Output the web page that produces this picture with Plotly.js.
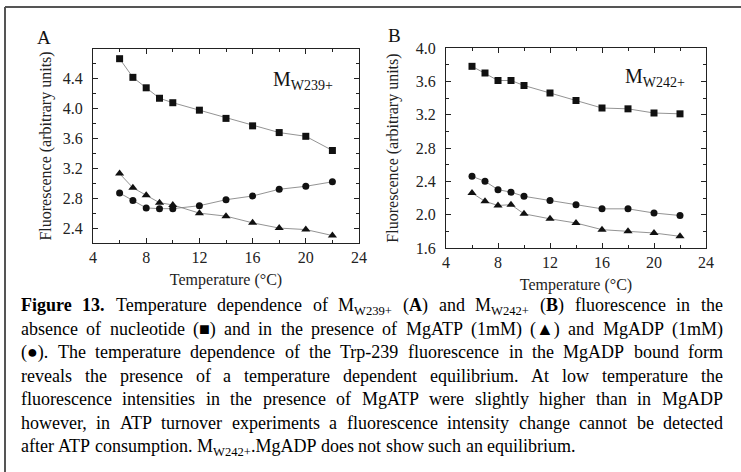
<!DOCTYPE html>
<html><head><meta charset="utf-8">
<script src="https://cdn.plot.ly/plotly-3.0.1.min.js"></script>
<style>html,body{margin:0;padding:0;background:#fff}#c{width:741px;height:472px}</style>
</head><body><div id="c"></div>
<script>
// ---- data ----
const temperature = [6,7,8,9,10,12,14,16,18,20,22];
const A_none = [4.67,4.42,4.28,4.14,4.08,3.98,3.87,3.77,3.68,3.63,3.44];
const A_ATP  = [3.13,2.94,2.84,2.74,2.71,2.60,2.56,2.47,2.40,2.38,2.30];
const A_ADP  = [2.87,2.77,2.67,2.66,2.66,2.70,2.78,2.83,2.92,2.96,3.02];
const B_none = [3.78,3.70,3.61,3.61,3.55,3.46,3.37,3.28,3.27,3.22,3.21];
const B_ADP  = [2.46,2.40,2.30,2.27,2.22,2.17,2.12,2.07,2.07,2.02,1.99];
const B_ATP  = [2.26,2.16,2.11,2.12,2.01,1.95,1.90,1.82,1.80,1.78,1.74];
const xTicks = [4,8,12,16,20,24];
const yTicksA = [2.4,2.8,3.2,3.6,4.0,4.4];
const yTicksB = [1.6,2.0,2.4,2.8,3.2,3.6,4.0];
const captionLines = [
  "<b>Figure</b> <b>13.</b> Temperature dependence of M<sub>W239+</sub> (<b>A</b>) and M<sub>W242+</sub> (<b>B</b>) fluorescence in the",
  "absence of nucleotide (\u25A0) and in the presence of MgATP (1mM) (\u25B2) and MgADP (1mM)",
  "(\u25CF). The temperature dependence of the Trp-239 fluorescence in the MgADP bound form",
  "reveals the presence of a temperature dependent equilibrium. At low temperature the",
  "fluorescence intensities in the presence of MgATP were slightly higher than in MgADP",
  "however, in ATP turnover experiments a fluorescence intensity change cannot be detected",
  "after ATP consumption. M<sub>W242+</sub>.MgADP does not show such an equilibrium."
];

const W = 741, H = 472;
const SERIF = 'Liberation Serif, Times New Roman, serif';
const px = v => v / W, py = v => 1 - v / H;

function series(x, y, xa, ya, sym, sz) {
  return {x, y, xaxis: xa, yaxis: ya, type: 'scatter', mode: 'lines+markers',
    line: {color: '#777', width: 0.8},
    marker: {symbol: sym, size: sz, color: '#111'}, showlegend: false, cliponaxis: false};
}
const traces = [
  series(temperature, A_none, 'x', 'y', 'square', 7),
  series(temperature, A_ATP, 'x', 'y', 'triangle-up', 8),
  series(temperature, A_ADP, 'x', 'y', 'circle', 7),
  series(temperature, B_none, 'x2', 'y2', 'square', 7),
  series(temperature, B_ADP, 'x2', 'y2', 'circle', 7),
  series(temperature, B_ATP, 'x2', 'y2', 'triangle-up', 8)
];

function xaxis(dom, anchor) {
  return {domain: dom, anchor, range: [4, 24], tickvals: xTicks, ticks: 'inside', ticklen: 5,
    showline: true, linecolor: '#222', linewidth: 1, mirror: 'allticks', tickcolor: '#222',
    minor: {dtick: 2, tick0: 0, ticks: 'inside', ticklen: 3, tickcolor: '#222'},
    showgrid: false, zeroline: false, tickfont: {family: SERIF, size: 16, color: '#222'},
    title: {text: 'Temperature (\u00B0C)', font: {family: SERIF, size: 16, color: '#222'}, standoff: 8}};
}
function yaxis(dom, anchor, range, tv, so) {
  return {domain: dom, anchor, range, tickvals: tv, tickformat: '.1f', ticks: 'inside', ticklen: 5,
    showline: true, linecolor: '#222', linewidth: 1, mirror: 'allticks', tickcolor: '#222',
    minor: {dtick: 0.2, ticks: 'inside', ticklen: 3, tickcolor: '#222'},
    showgrid: false, zeroline: false, tickfont: {family: SERIF, size: 16, color: '#222'},
    ticklabelstandoff: 6,
    title: {text: 'Fluorescence (arbitrary units)', font: {family: SERIF, size: 16, color: '#222'}, standoff: so}};
}

// caption justification
const cv = document.createElement('canvas').getContext('2d');
const CAP = 18;
function measureWord(w) {
  let width = 0, bold = false, sub = false;
  const parts = w.split(/(<\/?(?:b|sub)>)/);
  for (const p of parts) {
    if (p === '<b>') bold = true; else if (p === '</b>') bold = false;
    else if (p === '<sub>') sub = true; else if (p === '</sub>') sub = false;
    else if (p) { cv.font = (bold ? 'bold ' : '') + (sub ? CAP * 0.7 : CAP) + 'px ' + SERIF; width += cv.measureText(p).width; }
  }
  return width;
}
const annotations = [];
const capLeft = 20, capRight = 722, capTop0 = 294, capStep = 23.5;
captionLines.forEach((line, i) => {
  const words = line.split(' ');
  const widths = words.map(measureWord);
  const total = widths.reduce((a, b) => a + b, 0);
  const last = i === captionLines.length - 1;
  cv.font = CAP + 'px ' + SERIF;
  const gap = last ? cv.measureText(' ').width : (capRight - capLeft - total) / (words.length - 1);
  let x = capLeft;
  words.forEach((w, j) => {
    annotations.push({text: w, xref: 'paper', yref: 'paper', x: px(x), y: py(capTop0 + i * capStep),
      xanchor: 'left', yanchor: 'top', showarrow: false, borderpad: 0,
      font: {family: SERIF, size: CAP, color: '#000'}});
    x += widths[j] + gap;
  });
});
// panel labels
annotations.push({text: 'A', xref: 'paper', yref: 'paper', x: px(35), y: py(37), xanchor: 'left', yanchor: 'middle', showarrow: false, font: {family: SERIF, size: 19, color: '#111'}});
annotations.push({text: 'B', xref: 'paper', yref: 'paper', x: px(386), y: py(35), xanchor: 'left', yanchor: 'middle', showarrow: false, font: {family: SERIF, size: 19, color: '#111'}});
annotations.push({text: 'M<sub>W239+</sub>', xref: 'paper', yref: 'paper', x: px(272), y: py(67), xanchor: 'left', yanchor: 'top', showarrow: false, borderpad: 0, font: {family: SERIF, size: 20, color: '#111'}});
annotations.push({text: 'M<sub>W242+</sub>', xref: 'paper', yref: 'paper', x: px(624), y: py(64), xanchor: 'left', yanchor: 'top', showarrow: false, borderpad: 0, font: {family: SERIF, size: 20, color: '#111'}});

const layout = {
  width: W, height: H, margin: {l: 0, r: 0, t: 0, b: 0},
  paper_bgcolor: '#fff', plot_bgcolor: '#fff', showlegend: false,
  xaxis: xaxis([px(93), px(359)], 'y'),
  yaxis: yaxis([py(243), py(49)], 'x', [2.2, 4.8], yTicksA, 7),
  xaxis2: xaxis([px(446), px(706)], 'y2'),
  yaxis2: yaxis([py(248), py(48)], 'x2', [1.6, 4.0], yTicksB, 13),
  annotations,
  shapes: [
    {type: 'line', xref: 'paper', yref: 'paper', x0: px(5), x1: 1, y0: py(7), y1: py(7), line: {color: '#555', width: 2}},
    {type: 'line', xref: 'paper', yref: 'paper', x0: px(5), x1: px(5), y0: py(7), y1: 0, line: {color: '#555', width: 2}}
  ]
};
Plotly.newPlot('c', traces, layout, {staticPlot: true, displayModeBar: false});
</script></body></html>
